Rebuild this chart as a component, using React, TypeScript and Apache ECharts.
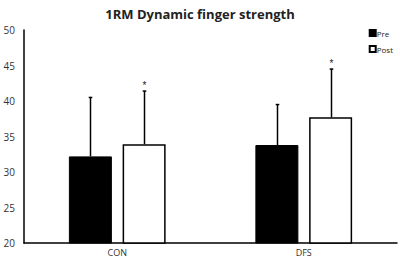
import React, { useEffect, useRef } from "react";
import * as echarts from "echarts";

const categories = ["CON", "DFS"];
const preMeans = [32.2, 33.8];
const preErrTops = [40.5, 39.5];
const postMeans = [33.9, 37.7];
const postErrTops = [41.4, 44.5];
const postStars = ["*", "*"];
const yTicks = { min: 20, max: 50, interval: 5 };

const BAR_W = 43;
const GAP_RATIO = 0.25;
const OFFSET = (BAR_W + BAR_W * GAP_RATIO) / 2;

function errSeries(name: string, means: number[], tops: number[], side: number, stars: string[] | null) {
  return {
    type: "custom",
    name: name + "-err",
    z: 5,
    data: categories.map((_, i) => [i, means[i], tops[i]]),
    renderItem: (params: any, api: any) => {
      const idx = api.value(0);
      const base = api.coord([idx, api.value(1)]);
      const top = api.coord([idx, api.value(2)]);
      const x = Math.round(base[0] + side * OFFSET) + 0.5;
      const children: any[] = [
        {
          type: "line",
          shape: { x1: x, y1: base[1], x2: x, y2: top[1] },
          style: { stroke: "#000", lineWidth: 1.5 },
        },
        {
          type: "line",
          shape: { x1: x - 1.8, y1: top[1], x2: x + 1.8, y2: top[1] },
          style: { stroke: "#000", lineWidth: 1.5 },
        },
      ];
      if (stars && stars[idx]) {
        children.push({
          type: "text",
          x: x,
          y: top[1] - 6,
          style: {
            text: stars[idx],
            fill: "#222",
            font: "10px Arial",
            align: "center",
            verticalAlign: "middle",
          },
        });
      }
      return { type: "group", children };
    },
    tooltip: { show: false },
  };
}

export default function App() {
  const ref = useRef<HTMLDivElement>(null);
  useEffect(() => {
    if (!ref.current) return;
    const chart = echarts.init(ref.current, undefined, { renderer: "svg" });
    chart.setOption({
      animation: false,
      backgroundColor: "#fff",
      title: {
        text: "1RM Dynamic finger strength",
        left: "center",
        top: 2,
        textStyle: { fontFamily: "Open Sans", fontWeight: "bold", fontSize: 13, color: "#222" },
      },
      legend: {
        orient: "vertical",
        right: 2,
        top: 24,
        itemWidth: 6,
        itemHeight: 6,
        itemGap: 8,
        icon: "rect",
        textStyle: { fontFamily: "Open Sans", fontSize: 8, color: "#222", padding: [0, 0, 0, -4] },
        data: ["Pre", "Post"],
      },
      grid: { left: 24, right: 3, top: 30, bottom: 22, containLabel: false },
      xAxis: {
        type: "category",
        data: categories,
        axisLine: { show: true, lineStyle: { color: "#000", width: 1.5 } },
        axisTick: { show: false },
        axisLabel: { fontFamily: "Open Sans", fontSize: 9, color: "#333", margin: 5 },
      },
      yAxis: {
        type: "value",
        min: yTicks.min,
        max: yTicks.max,
        interval: yTicks.interval,
        axisLine: { show: true, lineStyle: { color: "#000", width: 1.5 } },
        axisTick: { show: false },
        splitLine: { show: false },
        axisLabel: { fontFamily: "Open Sans", fontSize: 10, color: "#333", margin: 9 },
      },
      series: [
        {
          name: "Pre",
          type: "bar",
          data: preMeans,
          barWidth: BAR_W,
          barGap: GAP_RATIO * 100 + "%",
          itemStyle: { color: "#000", borderColor: "#000", borderWidth: 1 },
        },
        {
          name: "Post",
          type: "bar",
          data: postMeans,
          barWidth: BAR_W,
          barGap: GAP_RATIO * 100 + "%",
          itemStyle: { color: "#fff", borderColor: "#000", borderWidth: 1.5 },
        },
        errSeries("Pre", preMeans, preErrTops, -1, null),
        errSeries("Post", postMeans, postErrTops, 1, postStars),
      ],
    });
    return () => chart.dispose();
  }, []);
  return (
    <div
      ref={ref}
      style={{ position: "absolute", left: 0, top: 0, width: 400, height: 265 }}
    />
  );
}
